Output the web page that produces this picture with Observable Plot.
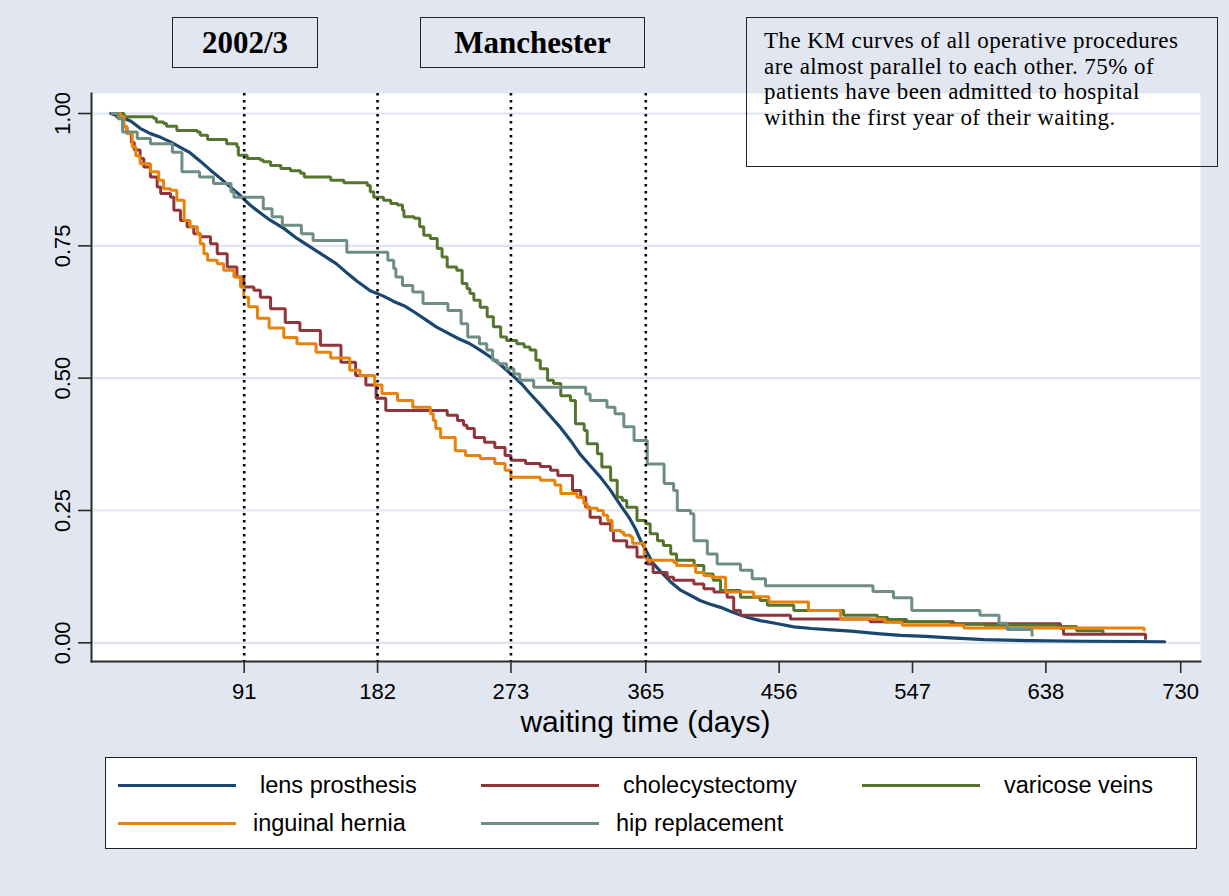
<!DOCTYPE html>
<html>
<head>
<meta charset="utf-8">
<script src="https://cdn.jsdelivr.net/npm/d3@7"></script>
<script src="https://cdn.jsdelivr.net/npm/@observablehq/plot@0.6"></script>
<style>
  html, body { margin: 0; padding: 0; background: #e1e6f0; }
  #page { position: relative; width: 1229px; height: 896px; background: #e1e6f0; overflow: hidden; font-family: "Liberation Sans", Arial, sans-serif; }
  #chart { position: absolute; left: 0; top: 0; }
  .tbox { position: absolute; box-sizing: border-box; border: 1.5px solid #222; font-family: "Liberation Serif", "Times New Roman", serif; color: #000; }
  .tag { display: flex; align-items: center; justify-content: center; font-weight: bold; font-size: 31px; }
  #note { padding: 10px 0 0 17px; }
  #note div { font-size: 23px; letter-spacing: 0.45px; line-height: 25.5px; height: 25.5px; white-space: nowrap; }
  #xtitle { position: absolute; left: 0; width: 1291px; text-align: center; top: 707px; font-size: 30px; line-height: 30px; color: #000; }
  #legend { position: absolute; left: 105px; top: 757px; width: 1092px; height: 92px; box-sizing: border-box; border: 1.5px solid #222; background: #fff; }
  .lkey { position: absolute; height: 0; border-top: 3px solid; width: 118px; }
  .ltxt { position: absolute; font-size: 23.5px; line-height: 24px; color: #000; white-space: nowrap; }
</style>
</head>
<body>
<div id="page">
  <div id="chart"></div>
  <div class="tbox tag" style="left:172px;top:17px;width:146px;height:51px;">2002/3</div>
  <div class="tbox tag" style="left:420px;top:17px;width:225px;height:51px;">Manchester</div>
  <div class="tbox" id="note" style="left:746px;top:17px;width:472px;height:150px;">
    <div>The KM curves of all operative procedures</div>
    <div>are almost parallel to each other. 75% of</div>
    <div>patients have been admitted to hospital</div>
    <div>within the first year of their waiting.</div>
  </div>
  <div id="xtitle">waiting time (days)</div>
  <div id="legend"></div>
</div>
<script>
// ---- data (days, survival proportion) ----
const procedures = ["lens prosthesis", "cholecystectomy", "varicose veins", "inguinal hernia", "hip replacement"];
const colors = ["#1a476f", "#90353b", "#55752f", "#e8820a", "#6e8e84"];
const xTicks = [91, 182, 273, 365, 456, 547, 638, 730];
const yTicks = [0, 0.25, 0.5, 0.75, 1];
const refDays = [91, 182, 273, 365];

const lensProsthesis = [[0,1],[7,0.993],[13.5,0.986],[20,0.972],[27,0.962],[34,0.955],[41,0.946],[48,0.935],[54,0.926],[61,0.910],[68,0.893],[75,0.877],[82,0.860],[88,0.846],[95,0.827],[102,0.812],[109,0.798],[118,0.783],[127,0.764],[136,0.748],[145,0.732],[154,0.716],[161,0.699],[168,0.683],[177,0.665],[186,0.655],[193,0.645],[200,0.637],[207,0.625],[215,0.610],[222,0.597],[230,0.585],[237,0.575],[245,0.565],[252,0.553],[259,0.540],[266,0.525],[273,0.508],[280,0.490],[286,0.471],[293,0.450],[300,0.428],[307,0.406],[314,0.381],[320,0.357],[327,0.335],[334,0.313],[341,0.288],[347,0.263],[354,0.235],[358,0.215],[362,0.190],[366,0.170],[370,0.150],[375,0.135],[382,0.115],[389,0.099],[396,0.089],[402,0.080],[409,0.073],[416,0.067],[423,0.059],[430,0.052],[436,0.047],[443,0.042],[455,0.036],[466,0.030],[478,0.027],[489,0.025],[505,0.022],[525,0.017],[539,0.014],[556,0.012],[573,0.0095],[596,0.006],[627,0.004],[664,0.003],[700,0.0025],[719,0.002]];

const cholecystectomy = [[0,1],[4,0.993],[8,0.975],[11,0.962],[14,0.945],[16,0.931],[20,0.915],[22.5,0.899],[27,0.880],[31.6,0.861],[34,0.849],[40.7,0.842],[43,0.817],[47.5,0.798],[52,0.786],[56.6,0.773],[61,0.767],[68,0.754],[72.6,0.735],[79.4,0.710],[86,0.691],[90.7,0.672],[97.6,0.666],[102,0.653],[109,0.631],[119,0.605],[129,0.590],[143,0.562],[157,0.530],[167,0.505],[174,0.487],[181,0.462],[187.6,0.439],[229.5,0.430],[236.5,0.420],[240.7,0.411],[243,0.405],[248,0.388],[255,0.379],[262,0.369],[269,0.354],[273,0.345],[283,0.339],[293,0.333],[300,0.326],[305,0.316],[315,0.288],[320.6,0.275],[324,0.256],[327,0.237],[334,0.225],[341,0.212],[343,0.193],[352,0.181],[359,0.162],[366,0.149],[370,0.133],[379.6,0.124],[384,0.118],[397.8,0.111],[404.6,0.102],[411.5,0.096],[420.5,0.086],[425,0.061],[429.6,0.052],[463.7,0.045],[518,0.040],[575,0.036],[648,0.027],[650,0.016],[706,0.006]];

const varicoseVeins = [[0,1],[9,0.994],[29,0.991],[31,0.984],[36,0.981],[38,0.976],[45,0.968],[59,0.965],[61,0.959],[66,0.951],[79,0.943],[86,0.937],[87,0.921],[93,0.915],[102,0.912],[104,0.909],[109,0.902],[116,0.896],[122.6,0.892],[129.4,0.887],[132,0.880],[150,0.874],[159,0.869],[175,0.864],[177,0.852],[179.4,0.842],[186,0.836],[191,0.830],[195.6,0.827],[199,0.817],[200,0.805],[207,0.802],[210.7,0.786],[213.5,0.770],[218,0.764],[222.7,0.745],[226,0.729],[229.5,0.710],[236,0.704],[239.7,0.679],[243,0.669],[245,0.660],[247.7,0.647],[252,0.634],[256.8,0.616],[261,0.597],[266,0.578],[270,0.571],[277,0.565],[282,0.559],[286,0.553],[290,0.534],[293,0.518],[298,0.496],[302,0.490],[307,0.467],[313.6,0.458],[317,0.414],[323,0.401],[325,0.376],[332,0.357],[335,0.332],[341,0.307],[345.5,0.275],[349,0.269],[352,0.256],[359,0.231],[365,0.225],[368,0.206],[373,0.193],[377,0.184],[382,0.168],[386,0.156],[398,0.146],[404.6,0.130],[411,0.118],[416,0.099],[429.6,0.086],[443,0.080],[448,0.071],[466,0.061],[500,0.052],[523,0.048],[530,0.044],[543,0.040],[573,0.036],[582,0.035],[596,0.033],[645.7,0.031],[659,0.023],[677,0.018]];

const inguinalHernia = [[0,1],[6.6,0.994],[9,0.975],[11,0.962],[14.6,0.937],[17,0.920],[20,0.905],[27,0.890],[32.7,0.874],[36,0.858],[40.7,0.855],[45,0.836],[50,0.798],[54,0.786],[59,0.773],[61,0.754],[63.5,0.735],[66,0.723],[72.6,0.716],[77,0.704],[84,0.691],[88.5,0.672],[90.7,0.653],[94,0.635],[100,0.613],[108,0.595],[118,0.577],[127,0.565],[140,0.549],[150,0.538],[163,0.515],[170,0.505],[180,0.487],[185,0.471],[195.6,0.458],[206,0.445],[218,0.433],[220,0.420],[221.7,0.405],[225,0.388],[235,0.363],[242,0.354],[252,0.348],[262,0.339],[269,0.326],[273,0.313],[293,0.307],[303,0.298],[307,0.282],[318,0.275],[322.7,0.263],[325,0.254],[332,0.250],[336,0.241],[339,0.231],[342,0.212],[348,0.209],[350,0.203],[354.6,0.200],[356,0.188],[364,0.162],[366,0.156],[384,0.152],[386,0.146],[399,0.133],[404.6,0.127],[410,0.124],[419.5,0.096],[438.6,0.087],[449,0.077],[476,0.061],[498,0.045],[528,0.039],[540,0.033],[582,0.028],[705,0.022]];

const hipReplacement = [[0,1],[5,0.990],[8,0.965],[18,0.953],[27,0.943],[42,0.927],[48.5,0.890],[60.5,0.880],[70,0.868],[82,0.852],[84,0.842],[104,0.820],[110,0.805],[117,0.789],[130,0.773],[138,0.760],[161,0.738],[189,0.723],[193,0.707],[194.5,0.691],[199,0.675],[206,0.663],[213,0.641],[230,0.628],[239,0.603],[243.5,0.578],[251.5,0.565],[256.5,0.553],[260.5,0.534],[264,0.527],[270,0.518],[275,0.508],[279,0.496],[288.5,0.483],[324,0.470],[327,0.458],[338.5,0.445],[344,0.433],[350,0.408],[357,0.382],[366,0.338],[377.5,0.301],[384,0.288],[386.5,0.250],[395.5,0.244],[397.8,0.193],[407,0.168],[413.7,0.149],[429.6,0.137],[437.6,0.121],[446.7,0.108],[520,0.097],[534,0.085],[546.5,0.061],[593,0.052],[606,0.037],[611.6,0.025],[628.6,0.012]];

const seriesValues = [lensProsthesis, cholecystectomy, varicoseVeins, inguinalHernia, hipReplacement];

const rows = procedures.flatMap((p, i) => seriesValues[i].map(([day, s]) => ({proc: p, day, s})));
// lens prosthesis has very many small steps: drawn as a fine polyline
const isLens = d => d.proc === procedures[0];

const gridColor = "#dfe4ee";
const axisColor = "#2b2b2b";

const chart = Plot.plot({
  width: 1229,
  height: 740,
  marginLeft: 91,
  marginRight: 29,
  marginTop: 93,
  marginBottom: 79,
  style: {background: "transparent", fontFamily: "'Liberation Sans', Arial, sans-serif", color: "#000", overflow: "visible"},
  x: {domain: [-13.2, 743.5]},
  y: {domain: [-0.0353, 1.0378]},
  color: {domain: procedures, range: colors},
  marks: [
    Plot.frame({fill: "white", stroke: null}),
    Plot.ruleY(yTicks, {stroke: gridColor, strokeWidth: 2.2}),
    Plot.line(rows.filter(isLens), {x: "day", y: "s", stroke: "proc", curve: "linear", strokeWidth: 3.2}),
    Plot.line(rows.filter(d => !isLens(d)), {x: "day", y: "s", z: "proc", stroke: "proc", curve: "step-after", strokeWidth: 3, strokeLinejoin: "miter", strokeLinecap: "butt"}),
    Plot.ruleX(refDays, {stroke: "#000", strokeWidth: 2.6, strokeDasharray: "2.6,4.4"}),
    Plot.frame({anchor: "left", stroke: axisColor, strokeWidth: 2}),
    Plot.frame({anchor: "bottom", stroke: axisColor, strokeWidth: 2}),
    Plot.axisY({ticks: yTicks, tickFormat: d3.format(".2f"), tickSize: 13, tickPadding: 9, tickRotate: -90, fontSize: 22, stroke: axisColor, strokeWidth: 1.6, label: null}),
    Plot.axisX({ticks: xTicks, tickFormat: d => String(d), tickSize: 12, tickPadding: 10, fontSize: 22, stroke: axisColor, strokeWidth: 1.6, label: null})
  ]
});
document.getElementById("chart").appendChild(chart);

// legend built from the series arrays
const legend = document.getElementById("legend");
const lineLeft = [12, 375, 756];
const rowMid = [27, 65];
const gap = [24, 17];
procedures.forEach((p, i) => {
  const col = i % 3, row = Math.floor(i / 3);
  const key = document.createElement("div");
  key.className = "lkey";
  key.style.left = lineLeft[col] + "px";
  key.style.top = (rowMid[row] - 1.5) + "px";
  key.style.borderTopColor = colors[i];
  legend.appendChild(key);
  const t = document.createElement("div");
  t.className = "ltxt";
  t.textContent = p;
  t.style.left = (lineLeft[col] + 118 + gap[row]) + "px";
  t.style.top = (rowMid[row] - 12) + "px";
  legend.appendChild(t);
});
</script>
</body>
</html>
